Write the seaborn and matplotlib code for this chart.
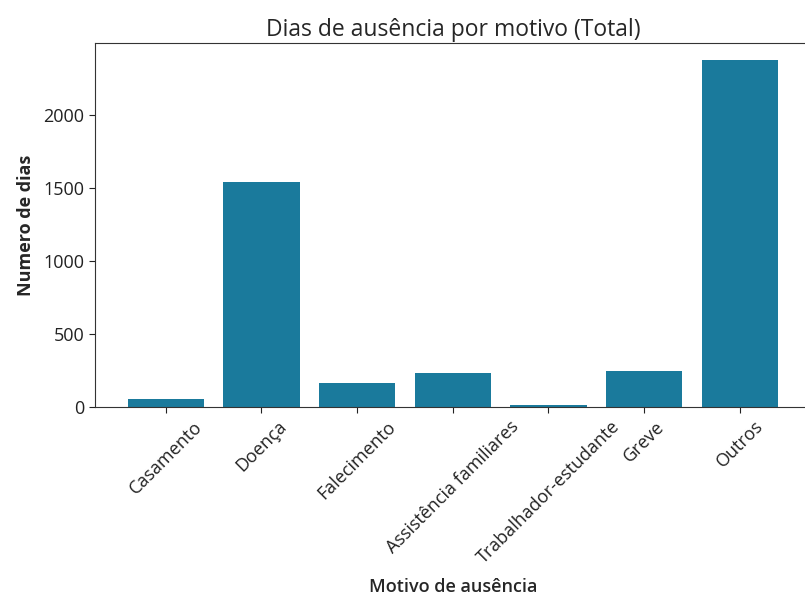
import pandas as pd
import matplotlib
matplotlib.use("Agg")
import matplotlib.pyplot as plt
import seaborn as sns

motivos = ["Casamento", "Doença", "Falecimento", "Assistência familiares",
           "Trabalhador-estudante", "Greve", "Outros"]
dias = [55, 1545, 165, 232, 12, 248, 2378]

df = pd.DataFrame({"Motivo": motivos, "Dias": dias})

sns.set_style("ticks")
plt.rcParams["font.family"] = ["Open Sans", "DejaVu Sans"]
plt.rcParams["axes.edgecolor"] = "#333333"

fig = plt.figure(figsize=(8.05, 5.99), dpi=100)
ax = fig.add_axes([0.118, 0.3205, 0.889, 0.6077])

sns.barplot(data=df, x="Motivo", y="Dias", color="#1a7a9c", saturation=1,
            width=0.8, linewidth=0, ax=ax)

# same margins as plain plt.bar
ax.set_xlim(-0.74, 6.74)
ax.set_ylim(0, 2497)
for s in ax.spines.values():
    s.set_visible(True)

ax.set_title("Dias de ausência por motivo (Total)", fontsize=16.5, pad=5)
ax.set_xlabel("Motivo de ausência", fontsize=13, fontweight="semibold", labelpad=8)
ax.set_ylabel("Numero de dias", fontsize=13, fontweight="bold", labelpad=6)
ax.tick_params(labelsize=13, colors="#222222", length=4)
plt.setp(ax.get_xticklabels(), rotation=45, ha="center")

fig.savefig("out.png", dpi=100)
